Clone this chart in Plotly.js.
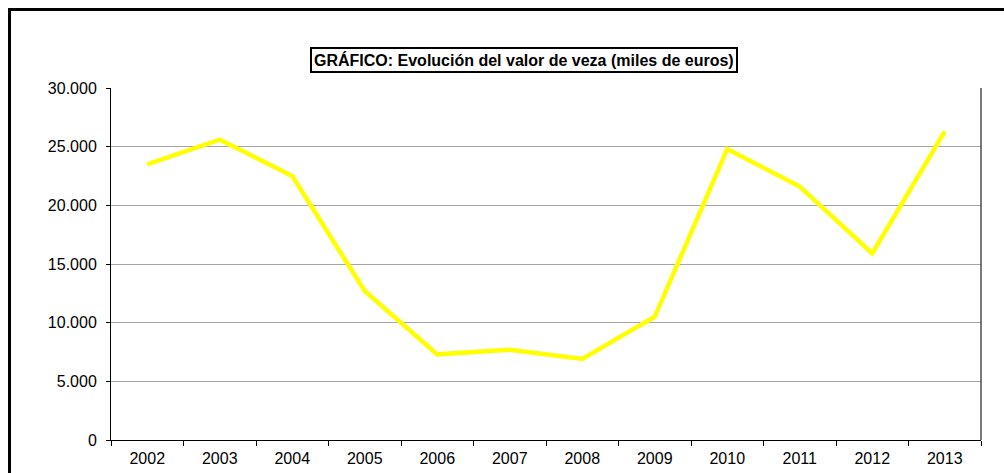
<!DOCTYPE html>
<html>
<head>
<meta charset="utf-8">
<script src="https://cdn.plot.ly/plotly-3.0.1.min.js"></script>
<style>
html,body{margin:0;padding:0;background:#fff;}
#wrap{position:relative;width:1004px;height:473px;overflow:hidden;}
#chart{width:1004px;height:473px;}
#frame{position:absolute;left:8px;top:8px;width:1200px;height:800px;border-top:3px solid #000;border-left:3px solid #000;pointer-events:none;}
</style>
</head>
<body>
<div id="wrap"><div id="chart"></div><div id="frame"></div></div>
<script>
const years = ["2002","2003","2004","2005","2006","2007","2008","2009","2010","2011","2012","2013"];
const valores = [23500, 25600, 22500, 12700, 7300, 7700, 6900, 10500, 24800, 21600, 15900, 26300];
const yTicks = [0, 5000, 10000, 15000, 20000, 25000, 30000];
const titulo = "GRÁFICO: Evolución del valor de veza (miles de euros)";

const font = "Liberation Sans, Arial, sans-serif";
Plotly.newPlot("chart", [{
  x: years, y: valores, type: "scatter", mode: "lines",
  line: {color: "#FFFF00", width: 4.5}, hoverinfo: "skip"
}], {
  width: 1004, height: 473,
  margin: {l: 111, r: 23, t: 88, b: 33},
  paper_bgcolor: "#fff", plot_bgcolor: "#fff",
  separators: ",.",
  showlegend: false,
  font: {family: font, size: 16, color: "#000"},
  xaxis: {
    type: "category", range: [-0.5, 11.5], tickson: "boundaries",
    ticks: "outside", ticklen: 5, tickcolor: "#000", tickwidth: 1,
    showline: true, linecolor: "#000", linewidth: 1,
    showgrid: false, zeroline: false, fixedrange: true, ticklabelstandoff: 4,
    tickfont: {family: font, size: 16, color: "#000"}
  },
  yaxis: {
    range: [0, 30000], tickvals: yTicks, tickformat: ",d",
    ticks: "outside", ticklen: 4, tickcolor: "#000", tickwidth: 1,
    showline: true, linecolor: "#000", linewidth: 1,
    showgrid: true, gridcolor: "#a6a6a6", gridwidth: 1,
    zeroline: false, fixedrange: true, ticklabelstandoff: 6,
    tickfont: {family: font, size: 16, color: "#000"}
  },
  shapes: [
    {type: "line", xref: "paper", yref: "paper", x0: 1, x1: 1, y0: 0, y1: 1, line: {color: "#222", width: 1.2}}
  ],
  annotations: [{
    text: "<b>" + titulo + "</b>", xref: "paper", yref: "paper",
    x: 0.4747, y: 1.0795, xanchor: "center", yanchor: "middle", showarrow: false,
    font: {family: font, size: 16, color: "#000"},
    bordercolor: "#000", borderwidth: 2, borderpad: 2, bgcolor: "#fff"
  }]
}, {staticPlot: true, displayModeBar: false});
</script>
</body>
</html>
